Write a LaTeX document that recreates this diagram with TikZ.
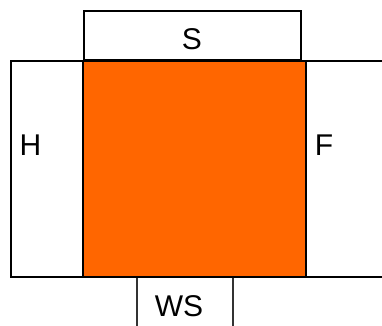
\documentclass[tikz,border=0pt]{standalone}
\usepackage{fontspec}
\setmainfont{Liberation Sans}
\usepackage{tikz}
\usetikzlibrary{positioning}
\definecolor{paneorange}{RGB}{255,102,0}
\tikzset{
  panel/.style={draw=black,line width=2pt},
  thinpanel/.style={draw=black!80,line width=1.3pt},
  lbl/.style={font=\fontsize{30}{34}\selectfont,inner sep=0pt,anchor=center}
}

\begin{document}
\begin{tikzpicture}[x=1pt,y=-1pt]

  \clip (0,0) rectangle (382,325);
  \useasboundingbox (0,0) rectangle (382,325);

  \coordinate (coreNW) at (83,61);
  \coordinate (coreSE) at (305.5,277);

  % side walls
  \draw[panel,fill=white] (11,61) rectangle (coreSE -| coreNW);
  \draw[panel,fill=white] (coreNW -| coreSE) rectangle (400,277);
  \draw[panel,fill=white] (84,11) rectangle (301,60);
  \draw[thinpanel,fill=white] (137,277) rectangle (233,340);

  % core
  \draw[panel,fill=paneorange] (coreNW) rectangle (coreSE);

  \node[lbl] (labS) at (192,39) {S};
  \node[lbl] (labH) at (30.5,145) {H};
  \node[lbl] (labF) at (324,145) {F};
  \node[lbl] (labWS) at (179,306.5) {WS};

\end{tikzpicture}
\end{document}
